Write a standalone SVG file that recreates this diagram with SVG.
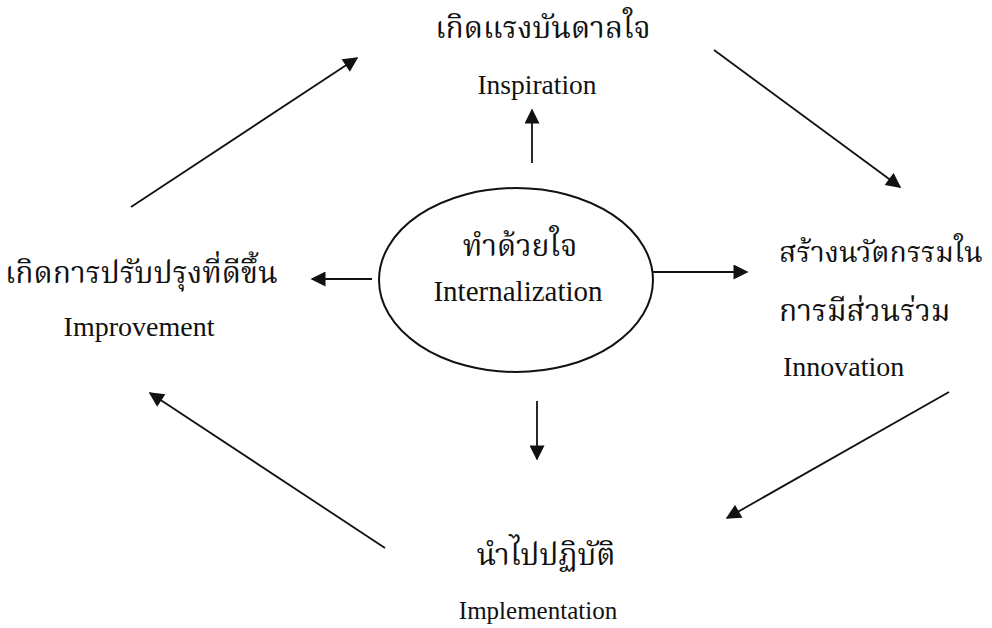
<svg xmlns="http://www.w3.org/2000/svg" width="992" height="628" viewBox="0 0 992 628">
<defs>
<style>
.th{font-family:"Norasi","Kinnari","Noto Serif Thai","Noto Sans Thai","Liberation Serif",serif;font-size:30px;fill:#111}
.en{font-family:"Liberation Serif","Times New Roman",serif;font-size:27px;fill:#111}
.ln{stroke:#111;stroke-width:1.8;fill:none}
</style>
<marker id="ah" viewBox="0 0 10 10" refX="9" refY="5" markerWidth="16" markerHeight="15" markerUnits="userSpaceOnUse" orient="auto">
<path d="M0,0 L10,5 L0,10 z" fill="#111"/>
</marker>
</defs>
<rect width="992" height="628" fill="#fff"/>
<g id="center">
<ellipse cx="516" cy="280" rx="137" ry="92" fill="none" stroke="#111" stroke-width="2"/>
<text class="th" x="520" y="256" text-anchor="middle">ทำด้วยใจ</text>
<text class="en" x="518" y="301" text-anchor="middle" style="font-size:29px">Internalization</text>
</g>
<g id="inspiration">
<text class="th" x="543" y="38" text-anchor="middle">เกิดแรงบันดาลใจ</text>
<text class="en" x="537" y="94" text-anchor="middle" style="font-size:27.5px">Inspiration</text>
</g>
<g id="innovation">
<text class="th" x="779" y="262" style="font-size:28.5px">สร้างนวัตกรรมใน</text>
<text class="th" x="779" y="321">การมีส่วนร่วม</text>
<text class="en" x="783" y="376" style="font-size:28px">Innovation</text>
</g>
<g id="implementation">
<text class="th" x="546" y="565" text-anchor="middle">นำไปปฏิบัติ</text>
<text class="en" x="538" y="619" text-anchor="middle" style="font-size:25px">Implementation</text>
</g>
<g id="improvement">
<text class="th" x="5" y="283">เกิดการปรับปรุงที่ดีขึ้น</text>
<text class="en" x="139" y="336" text-anchor="middle" style="font-size:28px">Improvement</text>
</g>
<g id="connectors">
<line class="ln" x1="532" y1="163" x2="532" y2="110" marker-end="url(#ah)"/>
<line class="ln" x1="372" y1="279" x2="312" y2="279" marker-end="url(#ah)"/>
<line class="ln" x1="653" y1="272" x2="747" y2="272" marker-end="url(#ah)"/>
<line class="ln" x1="537" y1="401" x2="537" y2="459" marker-end="url(#ah)"/>
<line class="ln" x1="131" y1="207" x2="357" y2="58" marker-end="url(#ah)"/>
<line class="ln" x1="714" y1="50" x2="900" y2="187" marker-end="url(#ah)"/>
<line class="ln" x1="949" y1="392" x2="727" y2="518" marker-end="url(#ah)"/>
<line class="ln" x1="385" y1="548" x2="150" y2="393" marker-end="url(#ah)"/>
</g>
</svg>
